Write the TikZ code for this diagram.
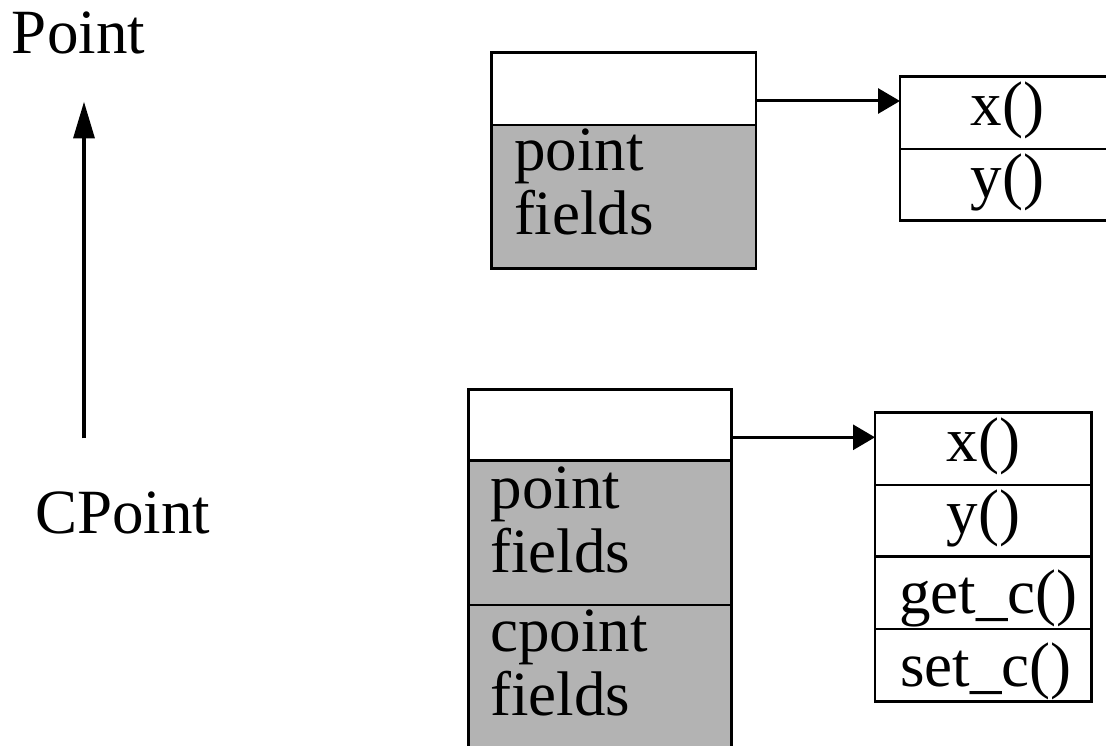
\documentclass[tikz,border=0pt]{standalone}
\usepackage{fontspec}
\setmainfont{Liberation Serif}
\usetikzlibrary{arrows.meta}
\definecolor{fieldgray}{RGB}{179,179,179}
\begin{document}
\begin{tikzpicture}[x=1pt,y=-1pt,
  txt/.style={font=\fontsize{63}{64}\selectfont, inner sep=0pt, outer sep=0pt},
  lbl/.style={txt, anchor=base west},
  hdrbox/.style={draw, line width=2.7pt, fill=white, anchor=north west, inner sep=0pt, outer sep=0pt},
  fldbox/.style={hdrbox, fill=fieldgray},
  methbox/.style={draw, line width=2.7pt, fill=white, anchor=north west, inner sep=0pt, outer sep=0pt,
     font=\fontsize{63}{64}\selectfont, text height=25pt, text depth=0pt},
  methlow/.style={methbox, text height=42pt},
  conn/.style={line width=3pt, -{Triangle[length=22pt,width=25pt]}},
  inh/.style={line width=3.3pt, -{Triangle[length=36.7pt,width=21pt]}}]
\useasboundingbox (0,0) rectangle (1106,746);
\clip (0,0) rectangle (1106,746);

% class names and inheritance arrow
\node[lbl] (point) at (12,53.3) {Point};
\node[lbl] (cpoint) at (35,533.3) {CPoint};
\coordinate (inhtail) at (84,438.3);
\coordinate (inhhead) at (84,101.7);
\draw[inh] (inhtail) -- (inhhead);

% Point object
\node[hdrbox, minimum width=264.3pt, minimum height=72.3pt] (phd) at (491.7,52.7) {};
\node[fldbox, minimum width=264.3pt, minimum height=143.3pt] (pfl) at (491.7,125) {};
\node[lbl] (pt1) at (514,171) {point};
\node[lbl] (pt2) at (514,235) {fields};

% Point method table
\node[methbox, minimum width=215pt, minimum height=72.3pt] (px) at (900,76.7) {x()};
\node[methbox, minimum width=215pt, minimum height=71.7pt] (py) at (900,149) {y()};

\draw[conn] ([yshift=-12.15pt]phd.east) -- ([yshift=-12.15pt]phd.east -| px.west);

% CPoint object
\node[hdrbox, minimum width=263.4pt, minimum height=71.4pt] (chd) at (468.3,389.3) {};
\node[fldbox, minimum width=263.4pt, minimum height=144.3pt] (cpf) at (468.3,460.7) {};
\node[fldbox, minimum width=263.4pt, minimum height=160pt] (ccf) at (468.3,605) {};
\node[lbl] (ct1) at (490.5,508.3) {point};
\node[lbl] (ct2) at (490.5,572.7) {fields};
\node[lbl] (ct3) at (490.5,651.7) {cpoint};
\node[lbl] (ct4) at (490.5,715) {fields};

% CPoint method table
\node[methbox, minimum width=216.7pt, minimum height=72.3pt] (cx) at (875,412.7) {x()};
\node[methbox, minimum width=216.7pt, minimum height=71.7pt] (cy) at (875,485) {y()};
\node[methlow, minimum width=216.7pt, minimum height=72.3pt] (cg) at (875,556.7) {\kern10pt get\_c()};
\node[methlow, minimum width=216.7pt, minimum height=72.7pt] (cs) at (875,629) {\kern5pt set\_c()};

\draw[conn] ([yshift=-12.3pt]chd.east) -- ([yshift=-12.3pt]chd.east -| cx.west);
\end{tikzpicture}
\end{document}
